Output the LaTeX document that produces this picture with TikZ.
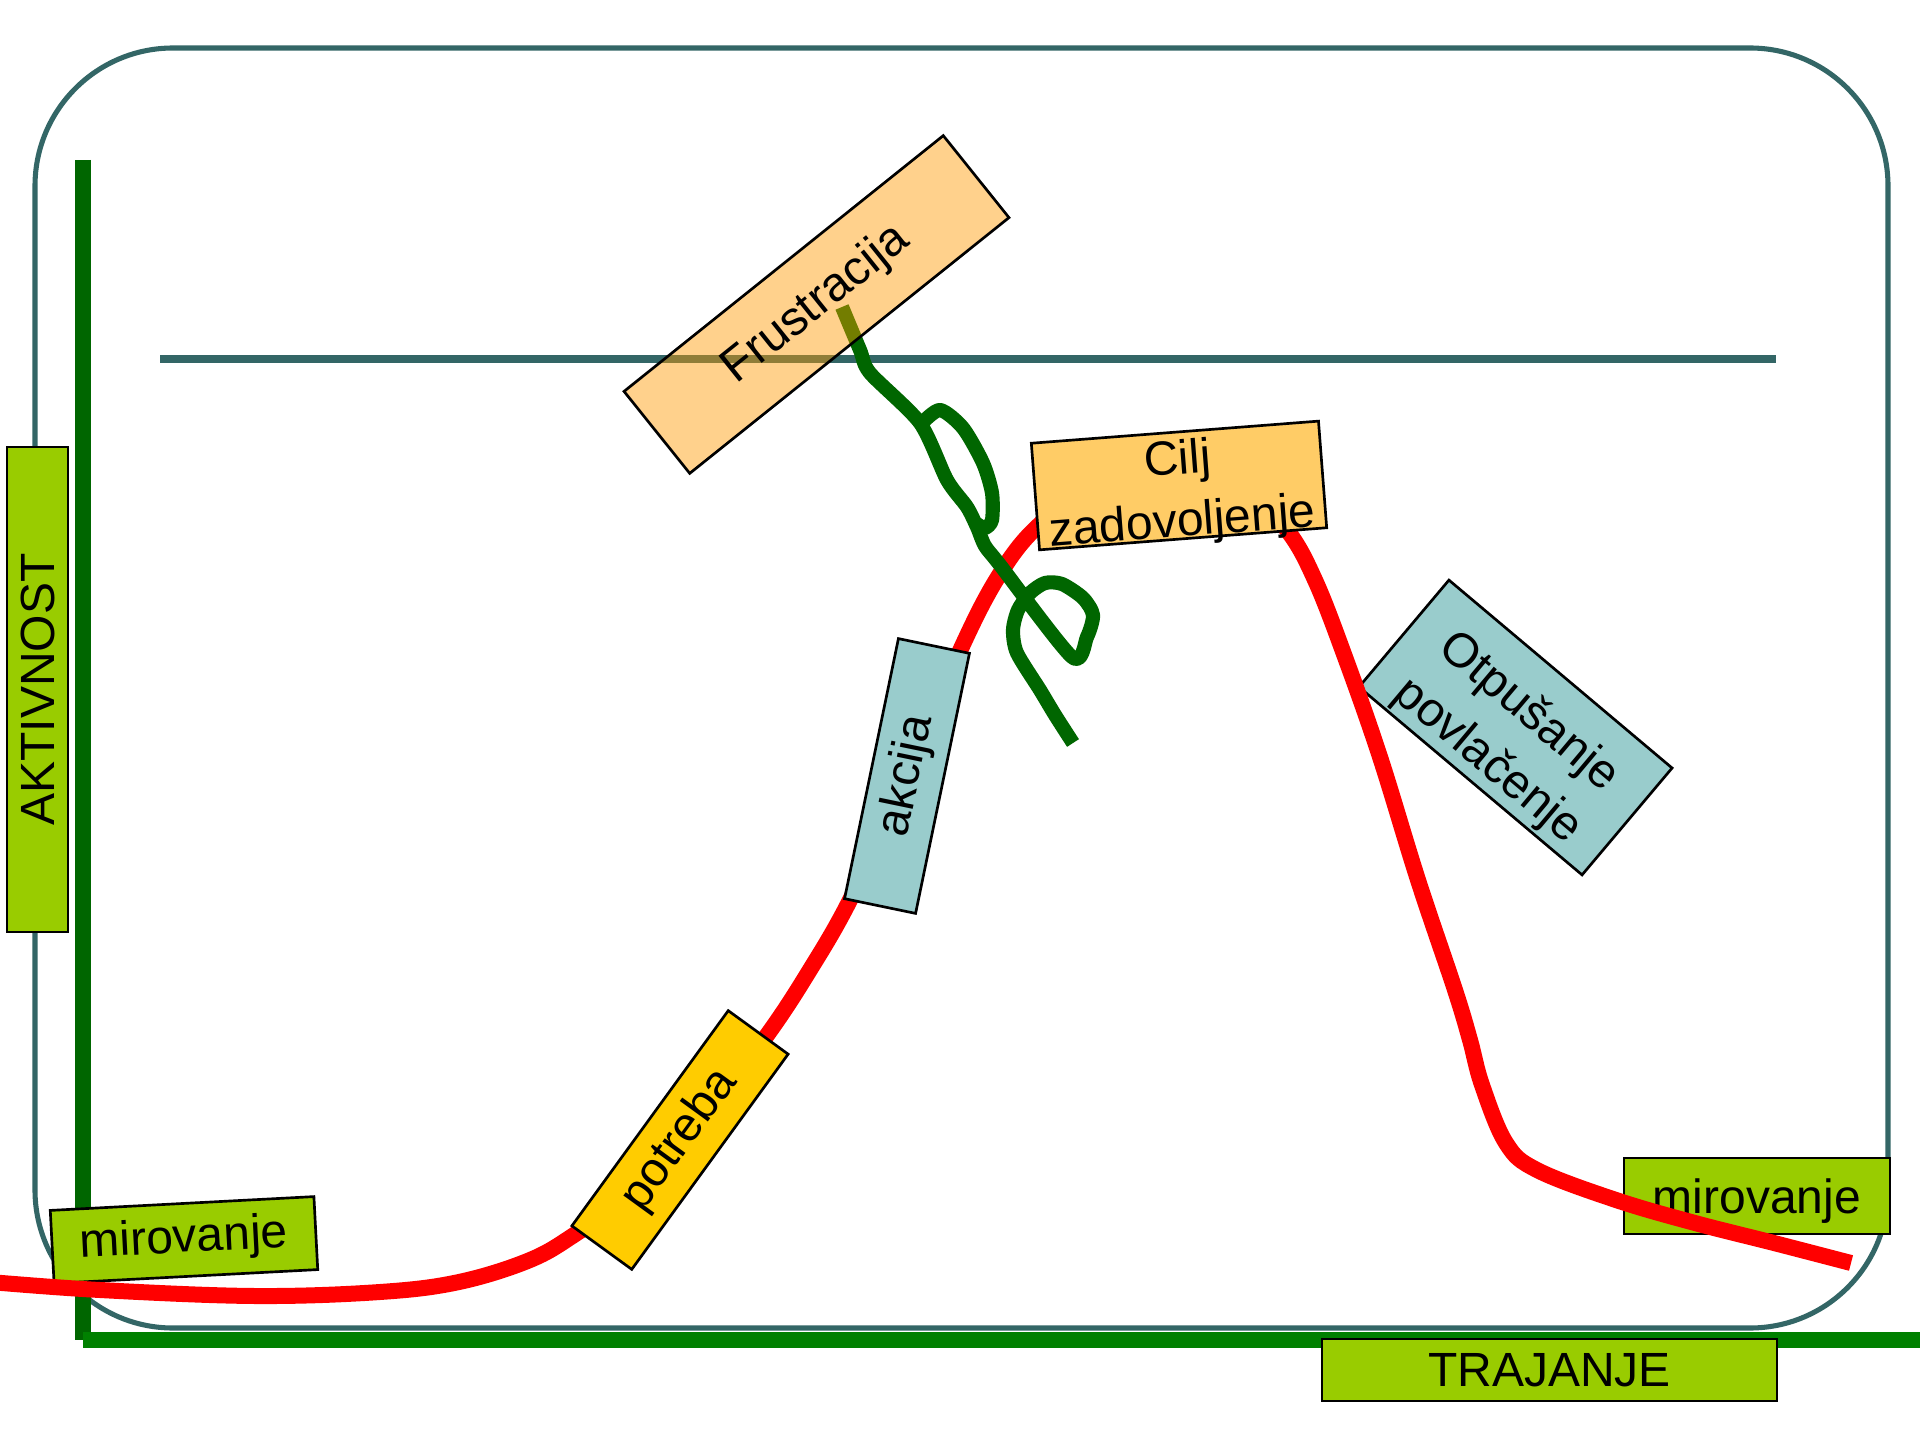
\documentclass[tikz,border=0pt]{standalone}
\usepackage{fontspec}
\setmainfont{Liberation Sans}
\definecolor{framecol}{RGB}{51,102,102}
\definecolor{dkgreen}{RGB}{0,102,0}
\definecolor{axgreen}{RGB}{0,128,0}
\definecolor{limecol}{RGB}{153,204,0}
\definecolor{cyancol}{RGB}{153,204,204}
\definecolor{goldcol}{RGB}{255,204,0}
\definecolor{lightor}{RGB}{255,204,102}
\definecolor{orcol}{RGB}{255,153,0}
\begin{document}
\begin{tikzpicture}[x=0.375pt,y=-0.375pt,
  lbl/.style={draw=black, line width=1pt, inner sep=0pt, align=center,
    font=\fontsize{18}{23.3}\selectfont},
  txt/.style={inner sep=0pt, align=center, font=\fontsize{18}{23.3}\selectfont},
  frame/.style={draw=framecol, line width=1.9pt},
  redline/.style={draw=red, line width=6pt},
  squig/.style={draw=dkgreen, line width=5.3pt, line join=round}]
\useasboundingbox (0,0) rectangle (1920,1440);
\fill[white] (0,0) rectangle (1920,1440);
% frame
\draw[frame, rounded corners=51.75pt] (35,48) rectangle (1888,1328);
\draw[draw=framecol, line width=3pt] (160,359) -- (1776,359);
% axes
\draw[draw=dkgreen, line width=6pt] (83,160) -- (83,1340);
\draw[draw=axgreen, line width=6pt] (83,1340) -- (1925,1340);
% lower boxes
\node[lbl, fill=limecol, rotate=90, minimum width=181.9pt, minimum height=22.9pt] (akt) at (37.5,689.5) {AKTIVNOST};
\node[lbl, fill=limecol, minimum width=170.6pt, minimum height=23.25pt] (traj) at (1549.5,1370) {TRAJANJE};
\node[lbl, fill=limecol, rotate=3, minimum width=99pt, minimum height=27.4pt] (mirL) at (184,1240) {mirovanje};
\node[lbl, fill=limecol, minimum width=99.75pt, minimum height=28.5pt] (mirR) at (1757,1196) {};
\node[txt] (mirRt) at (1757,1201) {mirovanje};
\node[lbl, fill=cyancol, rotate=-40.1, minimum width=109.4pt, minimum height=52.4pt] (otp) at (1515.5,727.5) {};
\node[txt, rotate=-40.1, font=\fontsize{18}{24}\selectfont] (otpt) at (1508,737) {Otpušanje\\povlačenje};
% red curve
\draw[redline] plot[smooth, tension=0.6] coordinates {
 (-10,1282) (100,1290) (255,1296) (380,1292) (459,1282) (530,1260) (577,1233)
 (640,1188) (700,1122) (765,1038) (808,973) (851,898) (905,780) (959,653)
 (998,577) (1038,526) (1100,482) (1170,466) (1240,482) (1287,530) (1315,580)
 (1345,657) (1380,757) (1418,880) (1455,990) (1470,1040) (1482,1085)
 (1506,1143) (1537,1170) (1616,1200) (1695,1223) (1774,1243) (1851,1263)};
% boxes over the curve
\node[lbl, fill=goldcol, rotate=54, minimum width=99.75pt, minimum height=27.75pt] (potreba) at (680,1140) {potreba};
\node[lbl, fill=cyancol, rotate=78.3, minimum width=99.6pt, minimum height=27.2pt] (akcija) at (907,776) {akcija};
\node[lbl, fill=lightor, rotate=4.4, minimum width=108pt, minimum height=40.1pt] (cilj) at (1179,485.5) {};
\node[txt, rotate=4.4] (ciljt) at (1180,493) {Cilj\\zadovoljenje};
% green squiggle
\draw[squig] plot[smooth, tension=0.45] coordinates {
 (842,307) (860,350) (870,373) (920,423) (947,480) (967,507) (977,527)
 (985,546) (1000,565) (1072,657) (1087,637) (1093,615) (1083,598) (1062,584)
 (1045,583) (1030,593) (1018,610) (1013,630) (1017,653) (1040,690)
 (1055,715) (1073,743)};
\draw[squig] plot[smooth, tension=0.45] coordinates {
 (921,424) (940,410) (963,428) (983,463) (992,493) (992,520) (985,528) (977,524)};
% Frustracija
\node[lbl, fill=orcol, fill opacity=0.45, text opacity=1, rotate=38.7, minimum width=153.4pt, minimum height=39.4pt] (frus) at (816.5,304.5) {Frustracija};
\end{tikzpicture}
\end{document}
